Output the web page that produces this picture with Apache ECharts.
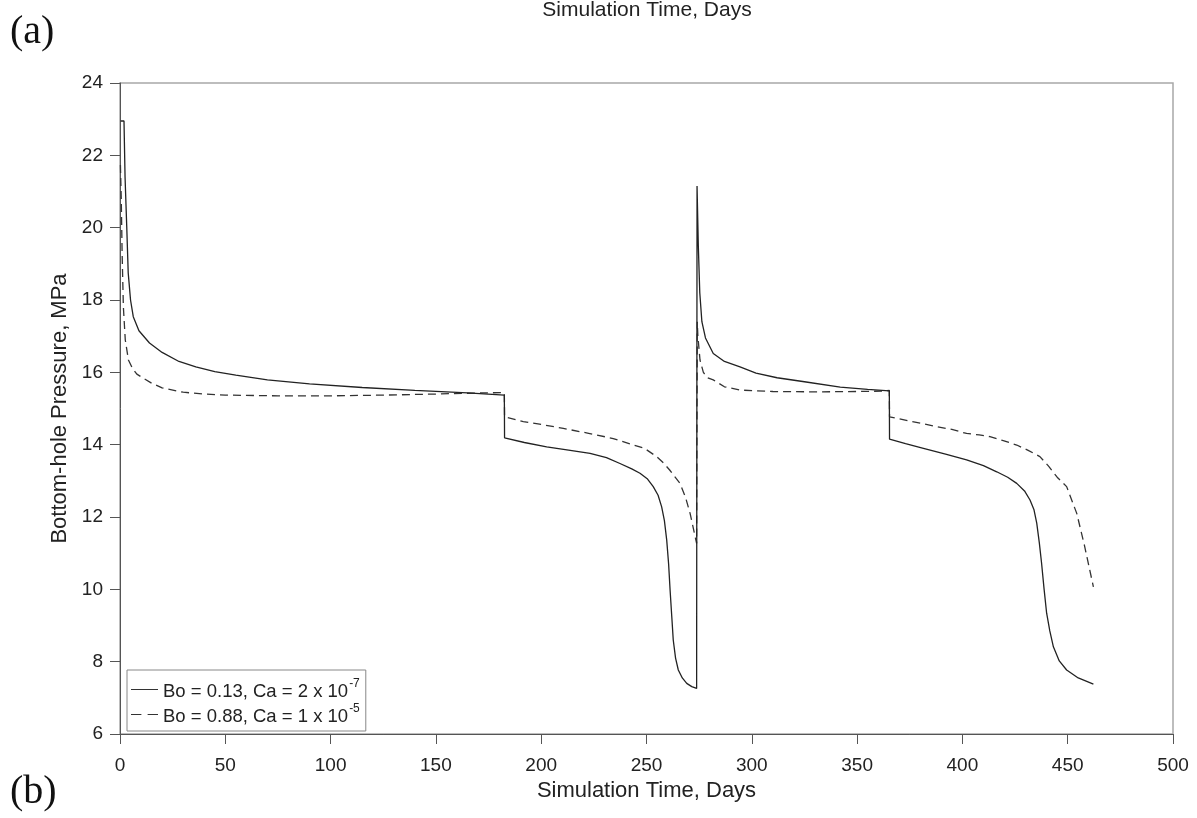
<!DOCTYPE html>
<html>
<head>
<meta charset="utf-8">
<script src="https://cdn.jsdelivr.net/npm/echarts@6/dist/echarts.min.js"></script>
<style>html,body{margin:0;padding:0;background:#fff}#c{width:1197px;height:818px}</style>
</head>
<body>
<div id="c"></div>
<script>
// ---- data ----
var seriesNames = ['Bo = 0.13, Ca = 2 x 10^-7', 'Bo = 0.88, Ca = 1 x 10^-5'];
var xTicks = [0, 50, 100, 150, 200, 250, 300, 350, 400, 450, 500];
var yTicks = [6, 8, 10, 12, 14, 16, 18, 20, 22, 24];

var solidT = [0.3, 1.9, 2.4, 3.2, 3.9, 5, 6.3, 9, 14, 20, 28, 36, 45, 55, 70, 90, 115, 140, 165, 182.5,
  182.6, 192, 202.6, 213, 223.2, 231, 237.4, 243, 246.9, 250.5, 253.2, 255.5, 257.2, 258.5, 259.6, 260.5, 261.2, 262, 262.7, 263.8, 265.1, 267, 269.1, 271.5, 273.8,
  274.0, 274.6, 275.3, 276.3, 278, 281.7, 287, 294.4, 302, 312, 325, 342, 355, 365.3,
  365.4, 373, 381.5, 392, 402, 410, 416.3, 421.5, 425.8, 429.5, 432.1, 434, 435.3, 436.5, 437.6, 438.8, 440, 441.5, 443.2, 446, 449.5, 455, 462.2];
var solidP = [22.95, 22.95, 21.4, 20.03, 18.75, 18.0, 17.54, 17.15, 16.81, 16.55, 16.3, 16.15, 16.02, 15.92, 15.79, 15.68, 15.58, 15.5, 15.43, 15.37,
  14.19, 14.06, 13.94, 13.85, 13.76, 13.64, 13.48, 13.33, 13.21, 13.05, 12.84, 12.6, 12.28, 11.9, 11.36, 10.7, 9.98, 9.25, 8.6, 8.1, 7.77, 7.55, 7.40, 7.31, 7.26,
  21.15, 19.5, 18.2, 17.4, 16.95, 16.52, 16.3, 16.15, 15.98, 15.85, 15.74, 15.59, 15.53, 15.49,
  14.15, 14.03, 13.90, 13.74, 13.58, 13.42, 13.25, 13.1, 12.93, 12.72, 12.47, 12.2, 11.83, 11.3, 10.72, 10.0, 9.34, 8.85, 8.41, 8.02, 7.77, 7.55, 7.38];

var dashT = [0.2, 0.6, 1.0, 1.6, 2.5, 4, 6, 8, 11, 15, 20, 30, 40, 50, 75, 100, 125, 150, 170, 182.5,
  182.6, 191.5, 200, 210.5, 222, 234.2, 243.7, 249, 254.8, 258, 261, 265.9, 268.5, 270.7, 273.8,
  274.1, 274.4, 275.4, 277, 279, 281.7, 287, 294.4, 310, 330, 350, 362.5, 365.3,
  365.4, 376, 387.8, 395, 402, 408, 413.1, 419, 425.8, 431, 436.8, 441, 445, 449.5, 454.3, 458, 462.2];
var dashP = [21.73, 20.8, 19.3, 17.81, 16.9, 16.34, 16.1, 15.95, 15.84, 15.7, 15.57, 15.45, 15.4, 15.37, 15.35, 15.35, 15.37, 15.4, 15.43, 15.44,
  14.77, 14.64, 14.56, 14.45, 14.32, 14.17, 13.99, 13.9, 13.67, 13.5, 13.3, 12.93, 12.55, 12.10, 11.27,
  17.4, 17.0, 16.34, 16.0, 15.85, 15.79, 15.6, 15.51, 15.47, 15.46, 15.47, 15.48, 15.5,
  14.77, 14.64, 14.50, 14.42, 14.31, 14.27, 14.22, 14.12, 13.99, 13.85, 13.67, 13.4, 13.1, 12.84, 12.10, 11.2, 10.07];

function zip(a, b) { return a.map(function (v, i) { return [v, b[i]]; }); }

var FONT = '"Liberation Sans", Arial, Helvetica, sans-serif';
var chart = echarts.init(document.getElementById('c'), null, { renderer: 'canvas' });
chart.setOption({
  animation: false,
  backgroundColor: '#fff',
  grid: { left: 120, right: 24, top: 83, bottom: 84, show: true, borderColor: '#a8a8a8', borderWidth: 1.5, backgroundColor: 'transparent' },
  xAxis: {
    type: 'value', min: 0, max: 500, interval: 50,
    name: 'Simulation Time, Days', nameLocation: 'middle', nameGap: 43,
    nameTextStyle: { fontFamily: FONT, fontSize: 22, color: '#222' },
    axisLine: { show: true, lineStyle: { color: '#555', width: 1 } },
    axisTick: { show: true, inside: false, length: 10, lineStyle: { color: '#555' } },
    axisLabel: { margin: 22, fontFamily: FONT, fontSize: 19, color: '#222',
      formatter: function (v) { return xTicks.indexOf(v) >= 0 ? String(v) : ''; } },
    splitLine: { show: false }
  },
  yAxis: {
    type: 'value', min: 6, max: 24, interval: 2,
    name: 'Bottom-hole Pressure, MPa', nameLocation: 'middle', nameGap: 34,
    nameTextStyle: { fontFamily: FONT, fontSize: 22, color: '#222' },
    axisLine: { show: true, lineStyle: { color: '#555', width: 1 } },
    axisTick: { show: true, inside: false, length: 10, lineStyle: { color: '#555' } },
    axisLabel: { margin: 17, fontFamily: FONT, fontSize: 19, color: '#222',
      formatter: function (v) { return yTicks.indexOf(v) >= 0 ? String(v) : ''; } },
    splitLine: { show: false }
  },
  legend: {
    orient: 'vertical', left: 127, top: 670,
    backgroundColor: '#fff', borderColor: '#888', borderWidth: 1,
    padding: [8, 6, 5, 4], itemGap: 2, itemWidth: 27, itemHeight: 1.3,
    data: [
      { name: seriesNames[0], icon: 'path://M0,0H27V1H0Z', itemStyle: { color: '#333' } },
      { name: seriesNames[1], icon: 'path://M0,0H10V1H0Z M16,0H26V1H16Z', itemStyle: { color: '#333' } }
    ],
    formatter: function (name) {
      var m = name.match(/^(.*10)\^(-\d+)$/);
      return '{n|' + m[1] + '}{s|' + m[2] + '}';
    },
    textStyle: {
      rich: {
        n: { fontFamily: FONT, fontSize: 18.5, color: '#222', lineHeight: 23, verticalAlign: 'bottom' },
        s: { fontFamily: FONT, fontSize: 12, color: '#222', lineHeight: 23, verticalAlign: 'top', padding: [0, 0, 10, 1] }
      }
    }
  },
  series: [
    { name: seriesNames[0], type: 'line', symbol: 'none', showSymbol: false, data: zip(solidT, solidP),
      lineStyle: { color: '#222', width: 1.3, type: 'solid' }, itemStyle: { color: '#222' }, z: 3 },
    { name: seriesNames[1], type: 'line', symbol: 'none', showSymbol: false, data: zip(dashT, dashP),
      lineStyle: { color: '#333', width: 1.3, type: [8, 5] }, itemStyle: { color: '#333' }, z: 2 }
  ],
  graphic: [
    { type: 'text', left: 10, top: 12, style: { text: '(a)', font: '40px "Liberation Serif", "Times New Roman", serif', fill: '#111' } },
    { type: 'text', left: 10, top: 772, style: { text: '(b)', font: '40px "Liberation Serif", "Times New Roman", serif', fill: '#111' } },
    { type: 'text', x: 647, y: 10, style: { text: 'Simulation Time, Days', font: '21px "Liberation Sans", Arial, sans-serif', fill: '#222', align: 'center', verticalAlign: 'middle' } }
  ]
});
</script>
</body>
</html>
